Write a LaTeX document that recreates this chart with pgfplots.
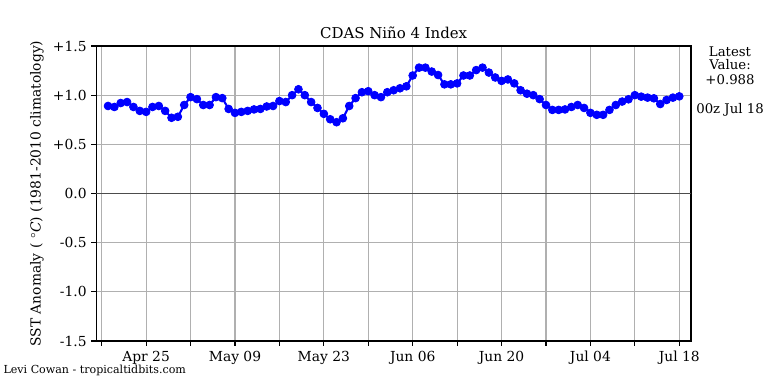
\documentclass[border=0pt]{standalone}
\usepackage{fontspec}
\setmainfont{DejaVu Serif}
\usepackage{pgfplots}
\pgfplotsset{compat=1.18}
\definecolor{gridgray}{HTML}{B0B0B0}
\begin{document}
\fontsize{10}{12}\selectfont
\begin{tikzpicture}
\useasboundingbox (0,0) rectangle (7.68in,3.84in);
\begin{axis}[
  at={(0.963in,0.43in)}, anchor=south west,
  scale only axis, width=5.947in, height=2.95in,
  xmin=-0.85, xmax=92.85, ymin=-1.5, ymax=1.5,
  xtick={0,7,...,91},
  xticklabels={,Apr 25,,May 09,,May 23,,Jun 06,,Jun 20,,Jul 04,,Jul 18},
  ytick={-1.5,-1,-0.5,0,0.5,1,1.5},
  yticklabels={-1.5,-1.0,-0.5,0.0,+0.5,+1.0,+1.5},
  xtick pos=bottom, ytick pos=left,
  tick align=outside, major tick length=3.5pt,
  tick style={black, line width=0.8pt},
  axis line style={black, line width=0.8pt},
  grid=major, grid style={gridgray, line width=0.8pt},
  ticklabel style={font=\fontsize{10}{12}\selectfont},
  /pgf/number format/assume math mode=true,
  clip=false,
]
\addplot[color=black!70, line width=0.8pt, forget plot] coordinates {(-0.85,0) (92.85,0)};
\addplot[color=blue, line width=1.5pt, mark=*, mark size=2.8pt, mark options={solid, fill=blue, line width=0.6pt}] coordinates {
(1,0.89) (2,0.88) (3,0.92) (4,0.93) (5,0.88) (6,0.84) (7,0.83) (8,0.88) (9,0.89) (10,0.84)
(11,0.77) (12,0.78) (13,0.90) (14,0.98) (15,0.96) (16,0.90) (17,0.90) (18,0.98) (19,0.97) (20,0.86)
(21,0.82) (22,0.83) (23,0.84) (24,0.855) (25,0.86) (26,0.885) (27,0.89) (28,0.94) (29,0.93) (30,1.00)
(31,1.06) (32,1.00) (33,0.93) (34,0.87) (35,0.81) (36,0.755) (37,0.725) (38,0.765) (39,0.89) (40,0.97)
(41,1.03) (42,1.04) (43,1.00) (44,0.98) (45,1.03) (46,1.05) (47,1.07) (48,1.09) (49,1.20) (50,1.28)
(51,1.28) (52,1.24) (53,1.205) (54,1.11) (55,1.11) (56,1.12) (57,1.20) (58,1.20) (59,1.255) (60,1.28)
(61,1.23) (62,1.18) (63,1.145) (64,1.16) (65,1.12) (66,1.05) (67,1.015) (68,1.00) (69,0.96) (70,0.90)
(71,0.85) (72,0.85) (73,0.855) (74,0.88) (75,0.90) (76,0.87) (77,0.82) (78,0.80) (79,0.80) (80,0.85)
(81,0.90) (82,0.935) (83,0.958) (84,1.00) (85,0.985) (86,0.975) (87,0.968) (88,0.91) (89,0.951) (90,0.975)
(91,0.988)
};
\node[anchor=base, inner sep=0, font=\fontsize{10.8}{13}\selectfont] at (axis description cs:0.5,1.026) {CDAS Niño 4 Index};
\node[rotate=90, anchor=center, inner sep=0] at (axis description cs:-0.0997,0.5) {SST Anomaly ( $^\circ$\textit{C}) (1981-2010 climatology)};
\node[anchor=base, inner sep=0, font=\fontsize{9.6}{11}\selectfont] at (axis description cs:1.0656,0.966) {Latest};
\node[anchor=base, inner sep=0, font=\fontsize{9.6}{11}\selectfont] at (axis description cs:1.0656,0.919) {Value:};
\node[anchor=base, inner sep=0, font=\fontsize{9.6}{11}\selectfont] at (axis description cs:1.0656,0.871) {+0.988};
\node[anchor=base, inner sep=0, font=\fontsize{9.6}{11}\selectfont] at (axis description cs:1.0656,0.772) {00z Jul 18};
\node[anchor=base west, inner sep=0, font=\fontsize{8}{9}\selectfont] at (axis description cs:-0.1564,-0.1095) {Levi Cowan - tropicaltidbits.com};
\end{axis}
\end{tikzpicture}
\end{document}
